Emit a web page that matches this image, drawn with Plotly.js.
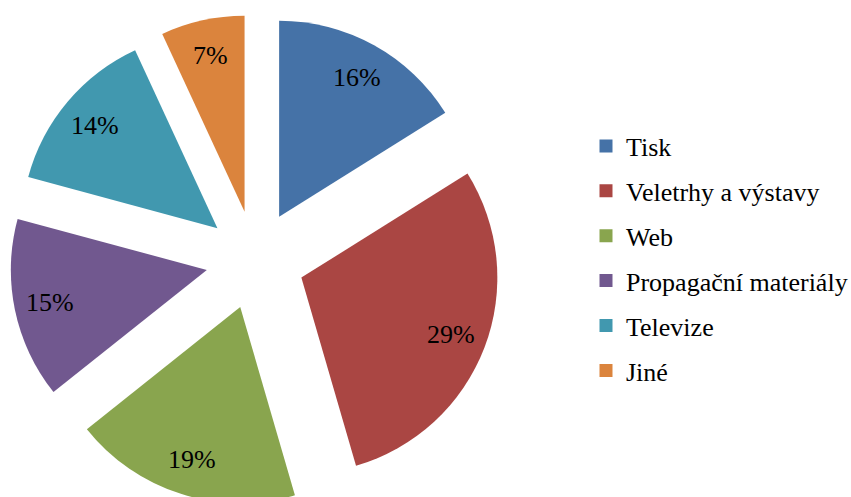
<!DOCTYPE html>
<html>
<head>
<meta charset="utf-8">
<script src="https://cdn.plot.ly/plotly-3.0.1.min.js"></script>
<style>html,body{margin:0;padding:0;background:#fff;overflow:hidden;width:851px;height:497px;}</style>
</head>
<body>
<div id="chart" style="width:851px;height:530px;"></div>
<script>
const categories = ["Tisk", "Veletrhy a výstavy", "Web", "Propagační materiály", "Televize", "Jiné"];
const values = [16.1, 29.4, 18.8, 14.9, 13.9, 6.9];
const colors = ["#4572A7", "#AA4643", "#89A54E", "#71588F", "#4198AF", "#DB843D"];

const font = "Liberation Serif";
const W = 851, H = 530;

// pie geometry (pixels, from top-left)
const pullFrac = 0.252;
const pieCx = 255.2, pieCy = 260, pieR = 196;
const half = pieR * (1 + pullFrac);
const dom = { x0: pieCx - half, x1: pieCx + half, y0: pieCy - half, y1: pieCy + half };
const labelFrac = 0.815;

const pie = {
  type: "pie",
  labels: categories,
  values: values,
  sort: false,
  direction: "clockwise",
  rotation: 0,
  pull: values.map(() => pullFrac),
  marker: { colors: colors, line: { width: 0 } },
  textinfo: "none",
  showlegend: false,
  hoverinfo: "label+percent",
  domain: { x: [dom.x0 / W, dom.x1 / W], y: [1 - dom.y1 / H, 1 - dom.y0 / H] }
};

// percentage labels placed along each slice's mid angle
const total = values.reduce((a, b) => a + b, 0);
let cum = 0;
const annotations = values.map((v) => {
  const mid = (cum + v / 2) / total * 2 * Math.PI;
  cum += v;
  const dist = (pullFrac + labelFrac) * pieR;
  const px = pieCx + Math.sin(mid) * dist;
  const py = pieCy - Math.cos(mid) * dist;
  return {
    xref: "paper", yref: "paper",
    x: px / W, y: 1 - py / H,
    xanchor: "center", yanchor: "middle",
    text: Math.round(v / total * 100) + "%",
    showarrow: false,
    font: { family: font, size: 26, color: "#000" }
  };
});

const legendTraces = categories.map((c, i) => ({
  type: "scatter",
  x: [null], y: [null],
  mode: "markers",
  name: c,
  legendgroup: "g" + i,
  marker: { symbol: "square", size: 13, color: colors[i] },
  showlegend: true,
  hoverinfo: "skip"
}));

const layout = {
  width: W, height: H,
  margin: { l: 0, r: 0, t: 0, b: 0, autoexpand: false },
  font: { family: font, size: 26, color: "#000" },
  paper_bgcolor: "#fff", plot_bgcolor: "#fff",
  xaxis: { visible: false }, yaxis: { visible: false },
  showlegend: true,
  annotations: annotations,
  legend: {
    x: 0.6886, y: 1 - 258.5 / H, xanchor: "left", yanchor: "middle",
    font: { family: font, size: 26, color: "#000" },
    traceorder: "grouped",
    tracegroupgap: 8.1,
    itemclick: false, itemdoubleclick: false,
    bgcolor: "rgba(0,0,0,0)"
  }
};

Plotly.newPlot("chart", [pie].concat(legendTraces), layout, { displayModeBar: false, staticPlot: true });
</script>
</body>
</html>
